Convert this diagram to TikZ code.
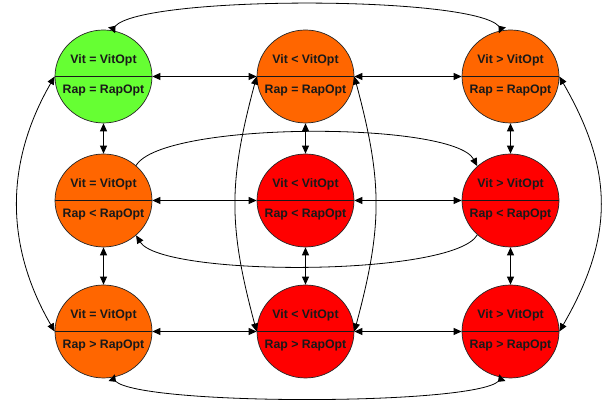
\documentclass[tikz,border=0pt]{standalone}
\usepackage{fontspec}
\setmainfont{Liberation Sans}
\usetikzlibrary{arrows.meta,shapes.geometric}
\definecolor{cgreen}{HTML}{66FF33}
\definecolor{corange}{HTML}{FF6600}
\definecolor{cred}{HTML}{FF0000}
\tikzset{
  state/.style={ellipse, draw=black!85, line width=0.7pt, minimum width=97pt, minimum height=93pt, inner sep=0pt,
    path picture={\draw[line width=1.1pt,black!90] (path picture bounding box.west) -- (path picture bounding box.east);}},
  txt/.style={inner sep=0pt, font=\fontsize{12.3}{14}\selectfont\bfseries, text=black!90},
  dbl/.style={{Triangle[length=8pt,width=7pt]}-{Triangle[length=8pt,width=7pt]}, line width=0.8pt},
  sgl/.style={-{Triangle[length=8pt,width=7pt]}, line width=0.8pt},
  rev/.style={{Triangle[reversed,length=6pt,width=9pt]}-{Triangle[reversed,length=6pt,width=9pt]}, line width=0.8pt},
}
\newcommand{\mystate}[5]{%
  \node[state, fill=#3] (#1) at (#2) {};
  \node[txt] (#1u) at ([yshift=16pt]#1.center) {#4};
  \node[txt] (#1d) at ([yshift=-14pt]#1.center) {#5};
}
\begin{document}
\begin{tikzpicture}[x=1pt,y=1pt]
\useasboundingbox (0,0) rectangle (605,403);
\mystate{a1}{103.5,326.5}{cgreen}{Vit = VitOpt}{Rap = RapOpt}
\mystate{a2}{305.5,326.5}{corange}{Vit < VitOpt}{Rap = RapOpt}
\mystate{a3}{510.5,326.5}{corange}{Vit > VitOpt}{Rap = RapOpt}
\mystate{b1}{103.5,202.5}{corange}{Vit = VitOpt}{Rap < RapOpt}
\mystate{b2}{305.5,202.5}{cred}{Vit < VitOpt}{Rap < RapOpt}
\mystate{b3}{510.5,202.5}{cred}{Vit > VitOpt}{Rap < RapOpt}
\mystate{c1}{103.5,71.5}{corange}{Vit = VitOpt}{Rap > RapOpt}
\mystate{c2}{305.5,71.5}{cred}{Vit < VitOpt}{Rap > RapOpt}
\mystate{c3}{510.5,71.5}{cred}{Vit > VitOpt}{Rap > RapOpt}
% horizontal
\draw[dbl] (a1) -- (a2);
\draw[dbl] (a2) -- (a3);
\draw[dbl] (b1) -- (b2);
\draw[dbl] (b2) -- (b3);
\draw[dbl] (c1) -- (c2);
\draw[dbl] (c2) -- (c3);
% vertical
\draw[dbl] (a1) -- (b1);
\draw[dbl] (b1) -- (c1);
\draw[dbl] (a2) -- (b2);
\draw[dbl] (b2) -- (c2);
\draw[dbl] (a3) -- (b3);
\draw[dbl] (b3) -- (c3);
% outer arcs
\draw[rev] (a1.80) .. controls +(30,35) and +(-30,35) .. (a3.100);
\draw[rev] (c1.-80) .. controls +(30,-28) and +(-30,-28) .. (c3.-100);
\draw[dbl] (a1.west) to[out=-120,in=120] (c1.west);
\draw[dbl] (a3.east) to[out=-60,in=60,looseness=1.1] (c3.east);
% middle column arcs
\draw[dbl] (a2.west) to[out=-105,in=105,looseness=1.1] (c2.west);
\draw[dbl] (a2.east) to[out=-75,in=75,looseness=1.1] (c2.east);
% inner loop
\draw[sgl] (b1.47) .. controls (162,282) and (453,282) .. (b3.134);
\draw[sgl] (b3.226) .. controls (453,126) and (162,126) .. (b1.-47);
\end{tikzpicture}
\end{document}
